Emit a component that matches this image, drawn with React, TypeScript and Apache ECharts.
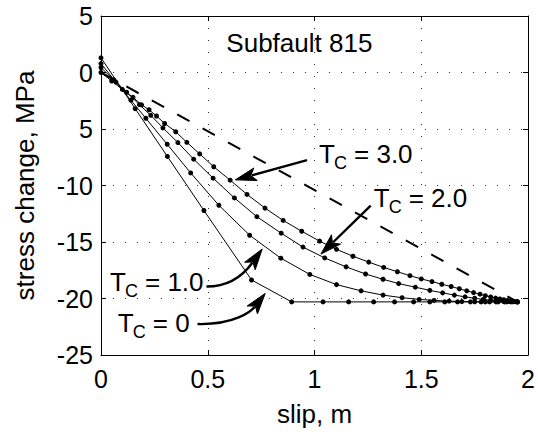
import React, { useEffect, useRef } from "react";
import * as echarts from "echarts";

// ---- data ----
const tc3X = [0, 0.05, 0.1, 0.15, 0.19, 0.225, 0.26, 0.298, 0.35, 0.402, 0.462, 0.528, 0.605, 0.684, 0.768, 0.853, 0.94, 1.024, 1.103, 1.18, 1.254, 1.324, 1.388, 1.447, 1.5, 1.55, 1.596, 1.64, 1.678, 1.713, 1.745, 1.775, 1.8, 1.825, 1.848, 1.868, 1.886, 1.903, 1.918, 1.93, 1.94, 1.95];
const tc3Y = [0, -0.75, -1.5, -2.2, -2.86, -3.3, -3.85, -4.51, -5.24, -6.18, -7.2, -8.34, -9.53, -10.79, -12.0, -13.09, -14.05, -14.92, -15.65, -16.26, -16.78, -17.25, -17.63, -17.98, -18.27, -18.5, -18.74, -18.94, -19.14, -19.32, -19.48, -19.62, -19.75, -19.86, -19.96, -20.04, -20.11, -20.17, -20.22, -20.25, -20.28, -20.3];

const tc2X = [0, 0.06, 0.12, 0.18, 0.233, 0.29, 0.36, 0.434, 0.525, 0.625, 0.73, 0.844, 0.946, 1.048, 1.148, 1.239, 1.321, 1.394, 1.472, 1.54, 1.6, 1.655, 1.705, 1.75, 1.79, 1.825, 1.857, 1.885, 1.91, 1.93, 1.95];
const tc2Y = [0.44, -0.65, -1.75, -2.85, -3.79, -4.9, -6.2, -7.67, -9.35, -11.1, -12.76, -14.22, -15.45, -16.41, -17.2, -17.83, -18.3, -18.68, -19.0, -19.28, -19.5, -19.7, -19.85, -19.98, -20.08, -20.15, -20.2, -20.24, -20.27, -20.29, -20.3];

const tc1X = [0, 0.07, 0.14, 0.21, 0.31, 0.42, 0.552, 0.696, 0.842, 0.978, 1.103, 1.218, 1.321, 1.41, 1.49, 1.56, 1.63, 1.69, 1.75, 1.8, 1.85, 1.9, 1.95];
const tc1Y = [0.79, -0.85, -2.45, -4.05, -6.35, -8.89, -11.75, -14.4, -16.43, -17.87, -18.77, -19.32, -19.7, -19.93, -20.08, -20.17, -20.23, -20.27, -20.29, -20.3, -20.3, -20.3, -20.3];

const tc0X = [0, 0.16, 0.311, 0.482, 0.705, 0.893, 1.04, 1.16, 1.277, 1.375, 1.464, 1.54, 1.61, 1.67, 1.73, 1.78, 1.82, 1.86, 1.89, 1.92, 1.95];
const tc0Y = [1.3, -3.2, -7.43, -12.21, -18.36, -20.3, -20.3, -20.3, -20.3, -20.3, -20.3, -20.3, -20.3, -20.3, -20.3, -20.3, -20.3, -20.3, -20.3, -20.3, -20.3];

const linearX = [0, 1.95];
const linearY = [0, -20.3];

const xTicks = [0, 0.5, 1, 1.5, 2];
const xTickLabels = ["0", "0.5", "1", "1.5", "2"];
const yTicks = [-25, -20, -15, -10, -5, 0, 5];
const yTickLabels = ["-25", "-20", "-15", "-10", "5", "0", "5"];

const title = "Subfault 815";
const xName = "slip, m";
const yName = "stress change, MPa";

// annotations: label text, text anchor (data), arrow start, cp1, cp2, tip (data)
const annLabels = ["3.0", "2.0", "1.0", "0"];
const annText: number[][] = [[1.021, -7.23], [1.277, -11.07], [0.042, -18.5], [0.079, -22.18]];
const annStart: number[][] = [[0.965, -7.75], [1.263, -11.79], [0.494, -18.94], [0.452, -22.26]];
const annCp1: (number[] | null)[] = [null, null, [0.63, -18.94], [0.625, -22.35]];
const annCp2: (number[] | null)[] = [null, null, [0.695, -17.19], [0.704, -21.13]];
const annTip: number[][] = [[0.629, -9.5], [1.03, -16.07], [0.755, -15.62], [0.769, -19.55]];
const titleAnchor = [0.587, 2.65];

const FONT = "'Liberation Sans', Arial, Helvetica, sans-serif";

function zip(xs: number[], ys: number[]) {
  return xs.map((x, i) => [x, ys[i]]);
}

export default function App() {
  const ref = useRef<HTMLDivElement>(null);
  useEffect(() => {
    if (!ref.current) return;
    const chart = echarts.init(ref.current, null, { renderer: "svg" });
    const dotSeries = (name: string, xs: number[], ys: number[]) => ({
      name,
      type: "line",
      data: zip(xs, ys),
      symbol: "circle",
      symbolSize: 5,
      showSymbol: true,
      itemStyle: { color: "#000" },
      lineStyle: { color: "#000", width: 1 },
      z: 3,
    });
    const axisCommon = {
      axisLine: { show: true, onZero: false, lineStyle: { color: "#000", width: 1 } },
      axisTick: { show: true, inside: true, length: 5, lineStyle: { color: "#000" } },
    };
    chart.setOption({
      animation: false,
      backgroundColor: "#fff",
      grid: { left: 101, right: 8, top: 16, bottom: 73, containLabel: false },
      xAxis: [
        {
          type: "value",
          min: 0,
          max: 2,
          interval: 0.5,
          position: "bottom",
          name: xName,
          nameLocation: "middle",
          nameGap: 46,
          nameTextStyle: { fontSize: 26, color: "#000", fontFamily: FONT },
          ...axisCommon,
          axisLabel: {
            fontSize: 25,
            color: "#000",
            fontFamily: FONT,
            margin: 11,
            formatter: (v: number) => {
              const i = xTicks.findIndex((t) => Math.abs(t - v) < 1e-9);
              return i >= 0 ? xTickLabels[i] : "";
            },
          },
          splitLine: { show: true, lineStyle: { color: "#333", type: [1, 11], width: 1 } },
        },
        {
          type: "value",
          min: 0,
          max: 2,
          interval: 0.5,
          position: "top",
          ...axisCommon,
          axisLabel: { show: false },
          splitLine: { show: false },
        },
      ],
      yAxis: [
        {
          type: "value",
          min: -25,
          max: 5,
          interval: 5,
          position: "left",
          name: yName,
          nameLocation: "middle",
          nameGap: 63,
          nameTextStyle: { fontSize: 26, color: "#000", fontFamily: FONT },
          ...axisCommon,
          axisLabel: {
            fontSize: 25,
            color: "#000",
            fontFamily: FONT,
            margin: 8,
            formatter: (v: number) => {
              const i = yTicks.findIndex((t) => Math.abs(t - v) < 1e-9);
              return i >= 0 ? yTickLabels[i] : "";
            },
          },
          splitLine: { show: true, lineStyle: { color: "#333", type: [1, 11], width: 1 } },
        },
        {
          type: "value",
          min: -25,
          max: 5,
          interval: 5,
          position: "right",
          ...axisCommon,
          axisLabel: { show: false },
          splitLine: { show: false },
        },
      ],
      series: [
        {
          name: "linear",
          type: "line",
          data: zip(linearX, linearY),
          symbol: "none",
          lineStyle: { color: "#000", width: 2, type: [14, 15] },
          z: 2,
        },
        dotSeries("Tc=3.0", tc3X, tc3Y),
        dotSeries("Tc=2.0", tc2X, tc2Y),
        dotSeries("Tc=1.0", tc1X, tc1Y),
        dotSeries("Tc=0", tc0X, tc0Y),
      ],
    });

    const px = (p: number[]) => chart.convertToPixel({ gridIndex: 0 }, p) as number[];
    const elements: any[] = [];
    const tp = px(titleAnchor);
    elements.push({
      type: "text",
      x: tp[0],
      y: tp[1],
      style: { text: title, fontSize: 26, fontFamily: FONT, fill: "#000", align: "left", verticalAlign: "middle" },
      z: 10,
    });
    annLabels.forEach((lab, i) => {
      const a = px(annText[i]);
      elements.push({
        type: "group",
        x: a[0],
        y: a[1],
        z: 10,
        children: [
          { type: "text", x: 0, y: 0, style: { text: "T", fontSize: 26, fontFamily: FONT, fill: "#000", align: "left", verticalAlign: "middle" } },
          { type: "text", x: 15, y: 9, style: { text: "C", fontSize: 18, fontFamily: FONT, fill: "#000", align: "left", verticalAlign: "middle" } },
          { type: "text", x: 35, y: 0, style: { text: "= " + lab, fontSize: 26, fontFamily: FONT, fill: "#000", align: "left", verticalAlign: "middle" } },
        ],
      });
      const s = px(annStart[i]);
      const t = px(annTip[i]);
      const c1 = annCp1[i] ? px(annCp1[i] as number[]) : null;
      const c2 = annCp2[i] ? px(annCp2[i] as number[]) : null;
      const from = c2 ? c2 : s;
      let dx = t[0] - from[0];
      let dy = t[1] - from[1];
      const len = Math.hypot(dx, dy) || 1;
      dx /= len;
      dy /= len;
      const L = 21;
      const W = 6.5;
      const bx = t[0] - L * dx;
      const by = t[1] - L * dy;
      const nx = -dy;
      const ny = dx;
      const lineEnd = [t[0] - (L - 4) * dx, t[1] - (L - 4) * dy];
      if (c1 && c2) {
        elements.push({
          type: "bezierCurve",
          shape: { x1: s[0], y1: s[1], cpx1: c1[0], cpy1: c1[1], cpx2: c2[0], cpy2: c2[1], x2: lineEnd[0], y2: lineEnd[1] },
          style: { stroke: "#000", lineWidth: 2.4, fill: null },
          z: 10,
        });
      } else {
        elements.push({
          type: "line",
          shape: { x1: s[0], y1: s[1], x2: lineEnd[0], y2: lineEnd[1] },
          style: { stroke: "#000", lineWidth: 2.4 },
          z: 10,
        });
      }
      elements.push({
        type: "polygon",
        shape: {
          points: [
            [t[0], t[1]],
            [bx + W * nx, by + W * ny],
            [t[0] - (L - 5) * dx, t[1] - (L - 5) * dy],
            [bx - W * nx, by - W * ny],
          ],
        },
        style: { fill: "#000", stroke: "#000", lineWidth: 1 },
        z: 10,
      });
    });
    chart.setOption({ graphic: elements });

    return () => chart.dispose();
  }, []);
  return (
    <div
      ref={ref}
      style={{ position: "fixed", left: 0, top: 0, width: 538, height: 432, background: "#fff" }}
    />
  );
}
